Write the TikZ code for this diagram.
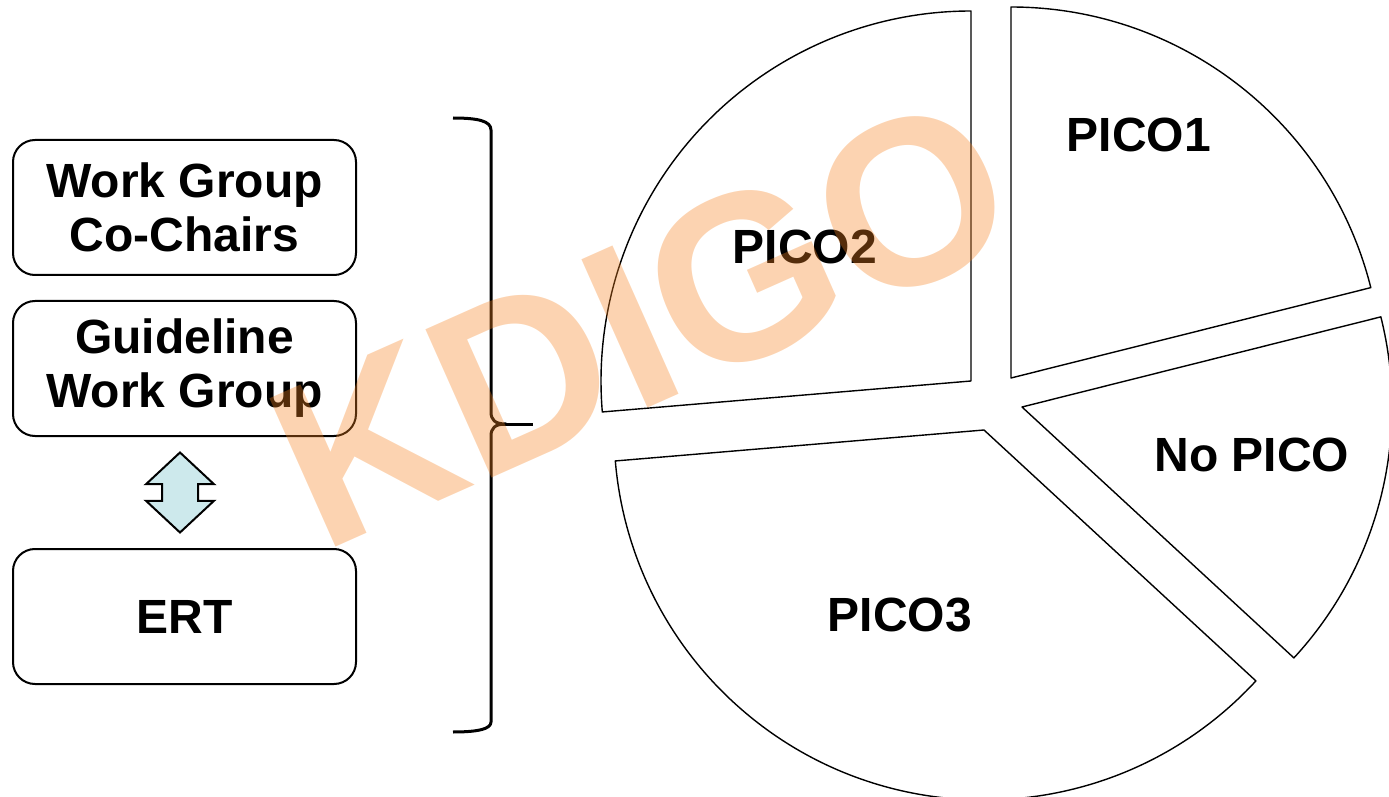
\documentclass[tikz,border=0pt]{standalone}
\usepackage{fontspec}
\setmainfont{Liberation Sans}
\usetikzlibrary{positioning, calc, shapes.arrows}

\definecolor{swapblue}{RGB}{205,233,236}
\definecolor{markorange}{RGB}{245,130,32}

\begin{document}
\begin{tikzpicture}[x=0.5pt, y=-0.5pt]
    \tikzset{block/.style = {draw, line width=1pt, rectangle, rounded corners=11pt, align=center,
                             minimum width=171.5pt, minimum height=67.5pt, inner sep=0pt,
                             font=\fontsize{24}{27}\selectfont\bfseries},
             pico/.style = {inner sep=0pt, font=\fontsize{24}{27}\selectfont\bfseries},
             slice/.style = {draw, line width=0.7pt, line join=round},
             swap/.style = {draw, line width=1pt, fill=swapblue, shape=double arrow, rotate=90,
                            double arrow head extend=8pt, double arrow tip angle=94,
                            minimum height=40pt, inner xsep=0pt, inner ysep=8.5pt},
             watermark/.style = {inner sep=0pt, text=markorange, text opacity=0.35, rotate=24,
                                 font=\fontsize{118}{118}\selectfont\bfseries}
            }
    \useasboundingbox (0,0) rectangle (1389,797);

    % who takes part
    \node (chairs) [block] at (184.5,207.5) {Work Group\\Co-Chairs};
    \node (group) [block, below =12pt of chairs] {Guideline\\Work Group};
    \node (ert) [block, below =55.5pt of group] {ERT};
    \node (link) [swap] at ($(group.south)!0.5!(ert.north)+(-2.25pt,0pt)$) {};

    % brace round the three boxes
    \draw[line width=1.5pt, line join=round] (453,118) .. controls (478,118) and (491,121) .. (491,130)
        -- (491,412) .. controls (491,420) and (495,424) .. (506,424)
        .. controls (495,424) and (491,428) .. (491,436)
        -- (491,722) .. controls (491,729) and (478,732) .. (453,732);
    \draw[line width=1.5pt] (500,424) -- (533,424);

    % exploded pie
    \draw[slice] (1011,378) -- ++(-90:371) arc[start angle=-90, end angle=-14.1, radius=371] -- cycle;
    \draw[slice] (1022,407) -- ++(-14.1:370) arc[start angle=-14.1, end angle=42.7, radius=370] -- cycle;
    \draw[slice] (984,430) -- ++(42.7:370) arc[start angle=42.7, end angle=175.2, radius=370] -- cycle;
    \draw[slice] (971,381) -- ++(175.2:370) arc[start angle=175.2, end angle=270, radius=370] -- cycle;

    \node (pico1) [pico] at (1139,135) {PICO1};
    \node (pico2) [pico] at (805,247) {PICO2};
    \node (nopico) [pico] at (1252,455) {No PICO};
    \node (pico3) [pico] at (900,615) {PICO3};

    \node (mark) [watermark] at (642,322) {KDIGO};
\end{tikzpicture}
\end{document}
